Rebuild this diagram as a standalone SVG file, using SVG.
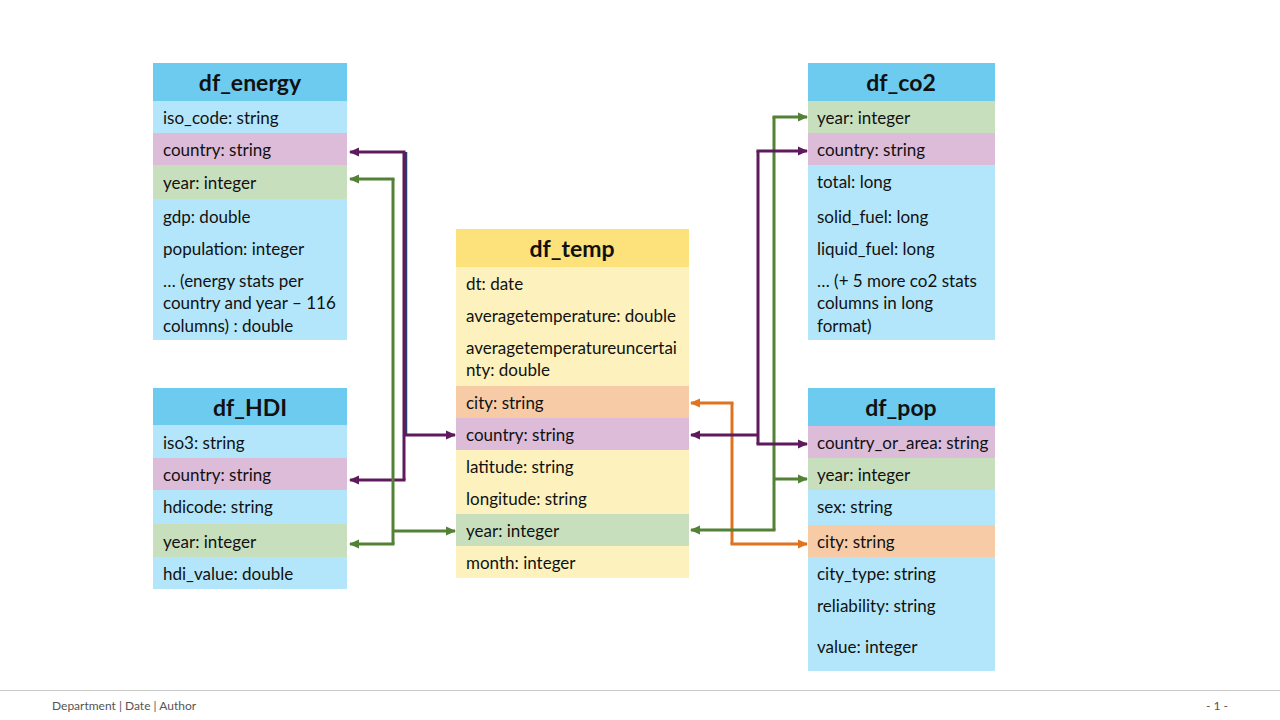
<svg xmlns="http://www.w3.org/2000/svg" width="1280" height="720" viewBox="0 0 1280 720">
<style>
text{font-family:Lato,"Liberation Sans",sans-serif;fill:#111}
.f{font-size:17px}
.h{font-size:23px;font-weight:bold;text-anchor:middle}
.hb{fill:#6dcbf0}.lb{fill:#b3e6fa}.pk{fill:#dcbcd8}.gr{fill:#c8dfbd}.or{fill:#f8cba7}.hy{fill:#fde27b}.ly{fill:#fdf1bd}
.c{fill:none;stroke-width:3}
.pu{stroke:#5e1a5c}.gn{stroke:#538135}.og{stroke:#e07320}
.ft{font-size:12px;fill:#555}
</style>
<defs>
<marker id="ap" markerUnits="userSpaceOnUse" markerWidth="10" markerHeight="10" refX="9" refY="5" orient="auto"><path d="M0,0.5 L10,5 L0,9.5 Z" fill="#5e1a5c"/></marker>
<marker id="ag" markerUnits="userSpaceOnUse" markerWidth="10" markerHeight="10" refX="9" refY="5" orient="auto"><path d="M0,0.5 L10,5 L0,9.5 Z" fill="#538135"/></marker>
<marker id="ao" markerUnits="userSpaceOnUse" markerWidth="10" markerHeight="10" refX="9" refY="5" orient="auto"><path d="M0,0.5 L10,5 L0,9.5 Z" fill="#e07320"/></marker>
</defs>
<rect width="1280" height="720" fill="#fff"/>

<g id="df_energy">
<rect class="hb" x="153" y="63" width="194" height="38"/>
<rect class="lb" x="153" y="101" width="194" height="32"/>
<rect class="pk" x="153" y="133" width="194" height="32"/>
<rect class="gr" x="153" y="165" width="194" height="34"/>
<rect class="lb" x="153" y="199" width="194" height="141"/>
<text class="h" x="250" y="91">df_energy</text>
<text class="f" x="163" y="124">iso_code: string</text>
<text class="f" x="163" y="156">country: string</text>
<text class="f" x="163" y="189">year: integer</text>
<text class="f" x="163" y="223">gdp: double</text>
<text class="f" x="163" y="255">population: integer</text>
<text class="f" x="163" y="287">… (energy stats per</text>
<text class="f" x="163" y="309">country and year – 116</text>
<text class="f" x="163" y="332">columns) : double</text>
</g>

<g id="df_HDI">
<rect class="hb" x="153" y="388" width="194" height="37"/>
<rect class="lb" x="153" y="425" width="194" height="33"/>
<rect class="pk" x="153" y="458" width="194" height="32"/>
<rect class="lb" x="153" y="490" width="194" height="34"/>
<rect class="gr" x="153" y="524" width="194" height="33"/>
<rect class="lb" x="153" y="557" width="194" height="32"/>
<text class="h" x="250" y="416">df_HDI</text>
<text class="f" x="163" y="449">iso3: string</text>
<text class="f" x="163" y="481">country: string</text>
<text class="f" x="163" y="513">hdicode: string</text>
<text class="f" x="163" y="548">year: integer</text>
<text class="f" x="163" y="580">hdi_value: double</text>
</g>

<g id="df_temp">
<rect class="hy" x="456" y="229" width="233" height="38"/>
<rect class="ly" x="456" y="267" width="233" height="119"/>
<rect class="or" x="456" y="386" width="233" height="32"/>
<rect class="pk" x="456" y="418" width="233" height="32"/>
<rect class="ly" x="456" y="450" width="233" height="64"/>
<rect class="gr" x="456" y="514" width="233" height="32"/>
<rect class="ly" x="456" y="546" width="233" height="32"/>
<text class="h" x="572" y="257">df_temp</text>
<text class="f" x="466" y="290">dt: date</text>
<text class="f" x="466" y="322">averagetemperature: double</text>
<text class="f" x="466" y="354">averagetemperatureuncertai</text>
<text class="f" x="466" y="376">nty: double</text>
<text class="f" x="466" y="409">city: string</text>
<text class="f" x="466" y="441">country: string</text>
<text class="f" x="466" y="473">latitude: string</text>
<text class="f" x="466" y="505">longitude: string</text>
<text class="f" x="466" y="537">year: integer</text>
<text class="f" x="466" y="569">month: integer</text>
</g>

<g id="df_co2">
<rect class="hb" x="808" y="63" width="187" height="38"/>
<rect class="gr" x="808" y="101" width="187" height="32"/>
<rect class="pk" x="808" y="133" width="187" height="32"/>
<rect class="lb" x="808" y="165" width="187" height="175"/>
<text class="h" x="901" y="91">df_co2</text>
<text class="f" x="817" y="124">year: integer</text>
<text class="f" x="817" y="156">country: string</text>
<text class="f" x="817" y="188">total: long</text>
<text class="f" x="817" y="223">solid_fuel: long</text>
<text class="f" x="817" y="255">liquid_fuel: long</text>
<text class="f" x="817" y="287">… (+ 5 more co2 stats</text>
<text class="f" x="817" y="309">columns in long</text>
<text class="f" x="817" y="332">format)</text>
</g>

<g id="df_pop">
<rect class="hb" x="808" y="388" width="187" height="38"/>
<rect class="pk" x="808" y="426" width="187" height="32"/>
<rect class="gr" x="808" y="458" width="187" height="32"/>
<rect class="lb" x="808" y="490" width="187" height="35"/>
<rect class="or" x="808" y="525" width="187" height="32"/>
<rect class="lb" x="808" y="557" width="187" height="114"/>
<text class="h" x="901" y="416">df_pop</text>
<text class="f" x="817" y="449">country_or_area: string</text>
<text class="f" x="817" y="481">year: integer</text>
<text class="f" x="817" y="513">sex: string</text>
<text class="f" x="817" y="548">city: string</text>
<text class="f" x="817" y="580">city_type: string</text>
<text class="f" x="817" y="612">reliability: string</text>
<text class="f" x="817" y="653">value: integer</text>
</g>

<g id="connectors">
<line x1="406" y1="152" x2="406" y2="434" stroke="#2e3b6e" stroke-width="2.5"/>
<path class="c pu" d="M404,152 V480" />
<path class="c pu" d="M405.5,152 H350" marker-end="url(#ap)"/>
<path class="c pu" d="M405.5,480 H350" marker-end="url(#ap)"/>
<path class="c pu" d="M404,435 H455" marker-end="url(#ap)"/>
<path class="c gn" d="M393,179 V544"/>
<path class="c gn" d="M394.5,179 H350" marker-end="url(#ag)"/>
<path class="c gn" d="M394.5,544 H350" marker-end="url(#ag)"/>
<path class="c gn" d="M393,531 H455" marker-end="url(#ag)"/>

<path class="c og" d="M732,403 V544"/>
<path class="c og" d="M733.5,403 H691" marker-end="url(#ao)"/>
<path class="c og" d="M730.5,544 H807" marker-end="url(#ao)"/>
<path class="c gn" d="M774,117 V530"/>
<path class="c gn" d="M772.5,117 H807" marker-end="url(#ag)"/>
<path class="c gn" d="M774,479 H807" marker-end="url(#ag)"/>
<path class="c gn" d="M775.5,530 H691" marker-end="url(#ag)"/>
<path class="c pu" d="M758,151 V444"/>
<path class="c pu" d="M756.5,151 H807" marker-end="url(#ap)"/>
<path class="c pu" d="M756.5,444 H807" marker-end="url(#ap)"/>
<path class="c pu" d="M758,435 H691" marker-end="url(#ap)"/>
</g>

<g id="footer">
<line x1="0" y1="690.5" x2="1280" y2="690.5" stroke="#c8c8c8" stroke-width="1"/>
<text class="ft" x="52" y="710">Department | Date | Author</text>
<text class="ft" x="1217" y="710" text-anchor="middle">- 1 -</text>
</g>
</svg>
